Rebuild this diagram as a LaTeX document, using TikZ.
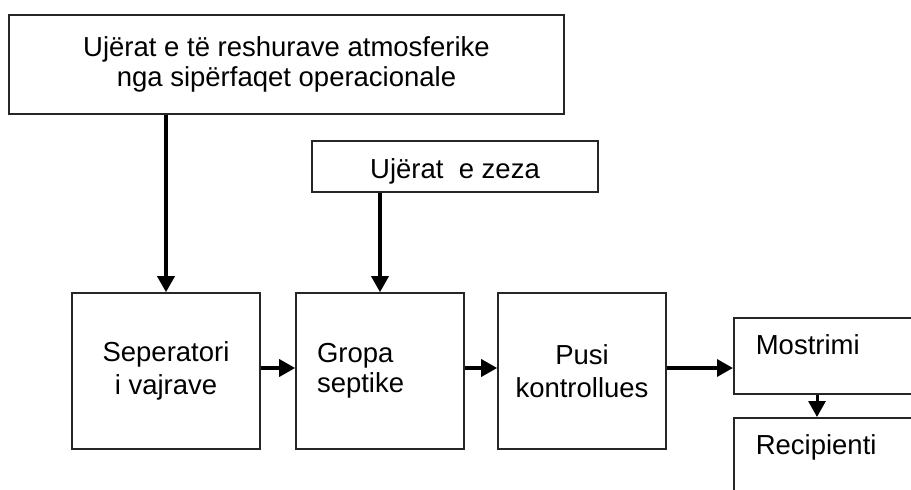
\documentclass[tikz,border=0pt]{standalone}
\usepackage{fontspec}
\setmainfont{Liberation Sans}
\usetikzlibrary{arrows.meta}

\begin{document}
\begin{tikzpicture}
[x=1pt,y=-1pt,%
  every node/.style={font=\fontsize{27.5}{32}\selectfont},%
  box/.style={shape=rectangle,draw=black!85,line width=1.6pt,inner sep=0pt},%
  arr/.style={-{Triangle[length=16pt,width=17pt]},line width=3.5pt}]
\useasboundingbox (0,0) rectangle (911,490);
\clip (0,0) rectangle (911,490);
\node[box,line width=2pt,minimum width=555pt,minimum height=99pt,align=center,%
  font=\fontsize{27.5}{30}\selectfont] (top) at (286.5,64.5)
  {Uj\"erat e t\"e reshurave atmosferike\\nga sip\"erfaqet operacionale};
\node[box,minimum width=286pt,text height=37pt,text depth=14pt] (zeza) at (455,166.5)
  {Uj\"erat\ \ e zeza};
\node[box,minimum width=188pt,minimum height=156pt,align=center,%
  font=\fontsize{27.5}{33}\selectfont] (sep) at (166,371) {Seperatori\\i vajrave};
\node[box,minimum height=156pt,inner xsep=21pt,text width=126pt,align=left,%
  font=\fontsize{27.5}{30}\selectfont] (gropa) at (380,371) {Gropa\\septike};
\node[box,minimum width=168pt,minimum height=156pt,align=center,%
  font=\fontsize{27.5}{33}\selectfont] (pusi) at (582,371) {Pusi\\kontrollues};
\node[box,anchor=north west,inner xsep=22pt,text width=183pt,align=left,%
  text height=37pt,text depth=39pt] (most) at (733,317) {Mostrimi};
\node[box,anchor=north west,inner xsep=22pt,text width=183pt,align=left,%
  text height=37pt,text depth=120pt] (reci) at (733,417) {Recipienti};
\draw[arr] (top.south -| sep.north) -- (sep.north);
\draw[arr] (zeza.south -| gropa.north) -- (gropa.north);
\draw[arr] ([yshift=3pt]sep.east) -- ([yshift=3pt]gropa.west);
\draw[arr] ([yshift=3pt]gropa.east) -- ([yshift=3pt]pusi.west);
\draw[arr] ([yshift=3pt]pusi.east) -- ([yshift=3pt]pusi.east -| most.west);
\draw[arr,line width=3pt] ([xshift=84pt]most.south west) -- ([xshift=84pt]reci.north west);
\end{tikzpicture}
\end{document}
